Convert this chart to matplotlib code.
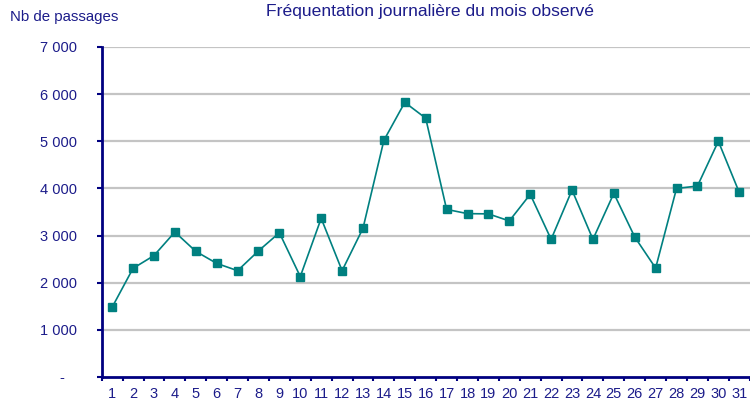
import matplotlib
matplotlib.use("Agg")
import matplotlib.pyplot as plt
import numpy as np
from matplotlib.ticker import FixedLocator, FuncFormatter

# Daily passages for the observed month
days = list(range(1, 32))
passages = [1480, 2305, 2575, 3075, 2665, 2410, 2255, 2675, 3060, 2130,
            3365, 2255, 3155, 5020, 5825, 5490, 3555, 3465, 3460, 3310,
            3875, 2920, 3965, 2920, 3895, 2970, 2310, 4000, 4050, 5000, 3915]
y_ticks = [0, 1000, 2000, 3000, 4000, 5000, 6000, 7000]

TEXT_COLOR = "#1c1c8a"
AXIS_COLOR = "#000080"
LINE_COLOR = "#008080"

plt.rcParams["font.family"] = ["Liberation Sans", "DejaVu Sans"]

fig = plt.figure(figsize=(7.5, 4.01), dpi=100)
ax = fig.add_axes([0.1356, 0.0599, 0.864, 0.8229])

ax.plot(days, passages, color=LINE_COLOR, linewidth=1.2, marker="s",
        markersize=5.5, markerfacecolor=LINE_COLOR, markeredgecolor=LINE_COLOR,
        clip_on=False, zorder=3)

ax.set_xlim(0.5, 31.5)
ax.set_ylim(0, 7000)

# grid lines
ax.set_yticks(y_ticks)
for v in y_ticks[1:]:
    ax.axhline(v, color="#c4c4c4", linewidth=1.6, zorder=1)


def fmt(v, pos):
    if v == 0:
        return "-   "
    return "{:,}".format(int(v)).replace(",", " ")


ax.yaxis.set_major_formatter(FuncFormatter(fmt))
ax.tick_params(axis="y", direction="out", length=3.6, width=1.5,
               color=AXIS_COLOR, labelcolor=TEXT_COLOR, labelsize=10.5, pad=14)

ax.xaxis.set_major_locator(FixedLocator(days))
ax.set_xticklabels([str(d) for d in days])
ax.xaxis.set_minor_locator(FixedLocator(np.arange(0.5, 32, 1)))
ax.tick_params(axis="x", which="major", length=0, labelcolor=TEXT_COLOR,
               labelsize=10.5, pad=7)
ax.tick_params(axis="x", which="minor", direction="out", length=3,
               width=1.5, color=AXIS_COLOR)

for side in ["top", "right"]:
    ax.spines[side].set_visible(False)
for side in ["left", "bottom"]:
    ax.spines[side].set_color(AXIS_COLOR)
    ax.spines[side].set_linewidth(2)
ax.spines["bottom"].set_zorder(4)

fig.text(0.5733, 0.972, "Fréquentation journalière du mois observé",
         ha="center", va="center", fontsize=12.6, color=TEXT_COLOR)
fig.text(0.013, 0.957, "Nb de passages", ha="left", va="center",
         fontsize=10.8, color=TEXT_COLOR)

fig.savefig("out.png", dpi=100)
